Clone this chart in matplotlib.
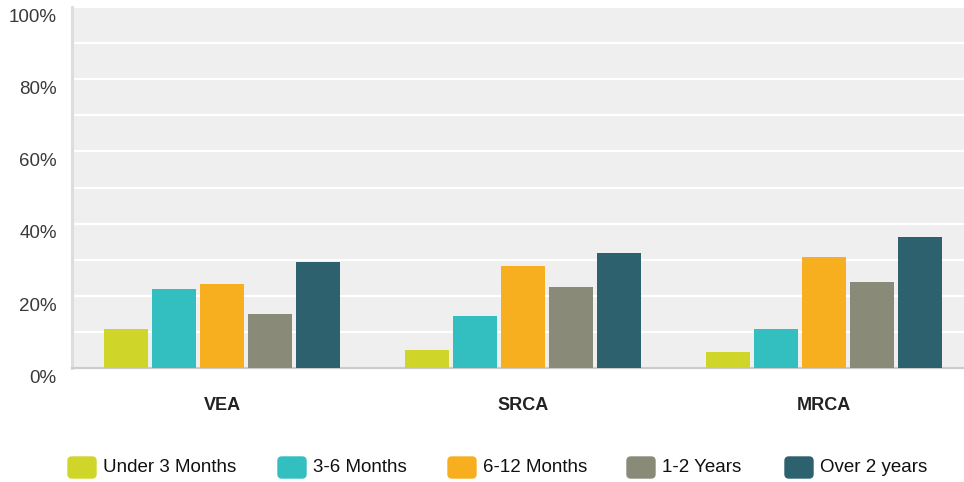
import matplotlib
matplotlib.use("Agg")
import matplotlib.pyplot as plt
import matplotlib.transforms as mtransforms
from matplotlib.patches import FancyBboxPatch
import numpy as np

plt.rcParams["font.family"] = ["Liberation Sans", "DejaVu Sans"]

categories = ["VEA", "SRCA", "MRCA"]
series_names = ["Under 3 Months", "3-6 Months", "6-12 Months", "1-2 Years", "Over 2 years"]
under_3_months = [10.7, 5.1, 4.4]
months_3_6 = [21.8, 14.3, 10.7]
months_6_12 = [23.2, 28.2, 30.7]
years_1_2 = [14.9, 22.4, 23.7]
over_2_years = [29.3, 31.8, 36.2]
y_ticks = [0, 20, 40, 60, 80, 100]
y_tick_labels = ["0%", "20%", "40%", "60%", "80%", "100%"]

colors = ["#D0D52A", "#33BEC0", "#F7AF1F", "#8A8A79", "#2E616E"]
all_series = [under_3_months, months_3_6, months_6_12, years_1_2, over_2_years]

fig = plt.figure(figsize=(9.64, 4.82), dpi=100)
ax = fig.add_axes([72 / 964, 1 - 368 / 482, 1 - 72 / 964, 361 / 482])
ax.set_facecolor("#EFEFEF")

x = np.arange(len(categories))
step = 0.1596
width = 0.146
for i, (vals, c) in enumerate(zip(all_series, colors)):
    ax.bar(x + (i - 2) * step, vals, width=width, color=c, zorder=3)

ax.set_xlim(-0.5, 2.467)
ax.set_ylim(0, 100)
ax.set_yticks(range(0, 101, 10))
ax.set_yticklabels([y_tick_labels[y_ticks.index(v)] if v in y_ticks else ""
                    for v in range(0, 101, 10)],
                   fontsize=13.5, color="#3A3A3A")
ax.tick_params(axis="y", length=0, pad=11)
ax.set_xticks(x)
ax.set_xticklabels(categories, fontsize=13, fontweight="bold", color="#222222")
ax.tick_params(axis="x", length=0, pad=21)
ax.grid(axis="y", color="white", linewidth=1.6, zorder=1)
ax.set_axisbelow(True)

offset = mtransforms.ScaledTranslation(0, -6 / 72, fig.dpi_scale_trans)
for lab in ax.get_yticklabels():
    lab.set_transform(lab.get_transform() + offset)

for side in ["top", "right"]:
    ax.spines[side].set_visible(False)
ax.spines["left"].set_color("#DDDDDD")
ax.spines["left"].set_linewidth(2.2)
ax.spines["bottom"].set_color("#CCCCCC")
ax.spines["bottom"].set_linewidth(1.6)

# legend drawn by hand to match spacing
legend_x = [68, 278, 448, 627, 785]
for lx, name, c in zip(legend_x, series_names, colors):
    box = FancyBboxPatch((lx / 964, 1 - 478 / 482), 28 / 964, 21 / 482,
                         boxstyle="round,pad=0,rounding_size=0.004",
                         transform=fig.transFigure, color=c, mutation_aspect=2)
    fig.patches.append(box)
    fig.text((lx + 35) / 964, 1 - 467 / 482, name, fontsize=13.5,
             color="#111111", va="center", ha="left")

fig.savefig("out.png", dpi=100)
